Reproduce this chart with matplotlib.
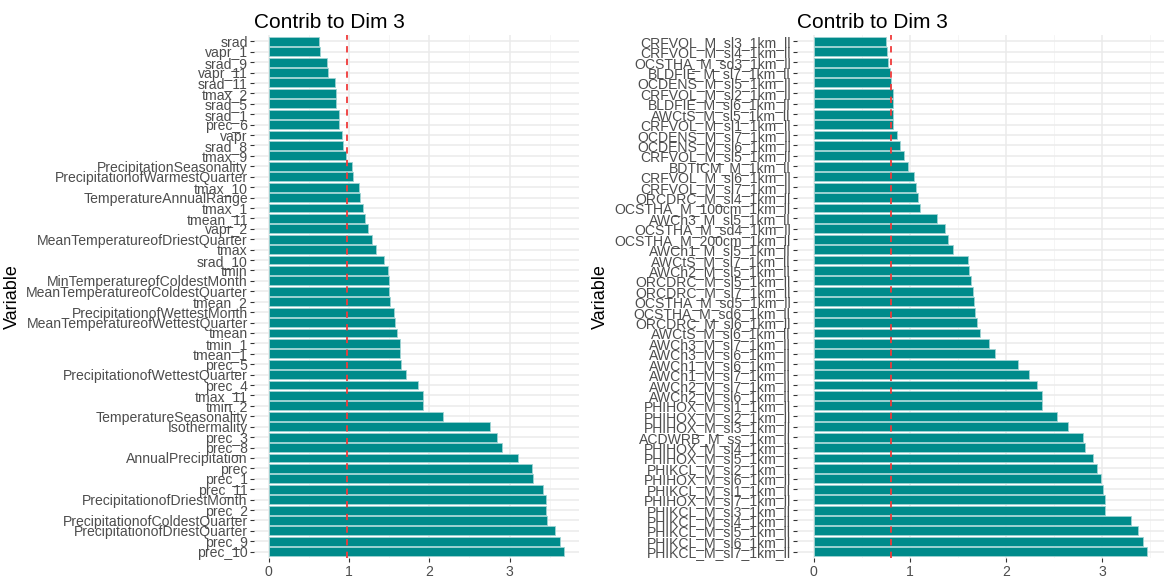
import numpy as np
import matplotlib
matplotlib.use('Agg')
import matplotlib.pyplot as plt

plt.rcParams['font.family'] = ['Liberation Sans', 'DejaVu Sans']

# climate variables, listed top to bottom
clim_vars = ['srad', 'vapr_1', 'srad_9', 'vapr_11', 'srad_11', 'tmax_2', 'srad_5', 'srad_1',
             'prec_6', 'vapr', 'srad_8', 'tmax_9', 'PrecipitationSeasonality',
             'PrecipitationofWarmestQuarter', 'tmax_10', 'TemperatureAnnualRange', 'tmax_1',
             'tmean_11', 'vapr_2', 'MeanTemperatureofDriestQuarter', 'tmax', 'srad_10', 'tmin',
             'MinTemperatureofColdestMonth', 'MeanTemperatureofColdestQuarter', 'tmean_2',
             'PrecipitationofWettestMonth', 'MeanTemperatureofWettestQuarter', 'tmean', 'tmin_1',
             'tmean_1', 'prec_5', 'PrecipitationofWettestQuarter', 'prec_4', 'tmax_11', 'tmin_2',
             'TemperatureSeasonality', 'Isothermality', 'prec_3', 'prec_8', 'AnnualPrecipitation',
             'prec', 'prec_1', 'prec_11', 'PrecipitationofDriestMonth', 'prec_2',
             'PrecipitationofColdestQuarter', 'PrecipitationofDriestQuarter', 'prec_9', 'prec_10']
clim_contrib = [0.62, 0.64, 0.73, 0.74, 0.83, 0.84, 0.84, 0.87, 0.88, 0.91,
                0.92, 0.96, 1.035, 1.05, 1.13, 1.14, 1.17, 1.20, 1.23, 1.29,
                1.33, 1.44, 1.49, 1.50, 1.50, 1.51, 1.565, 1.57, 1.60, 1.64,
                1.64, 1.645, 1.71, 1.86, 1.92, 1.92, 2.17, 2.75, 2.84, 2.90,
                3.11, 3.28, 3.29, 3.41, 3.45, 3.45, 3.46, 3.57, 3.63, 3.68]
clim_ref = 0.98

# soil variables, listed top to bottom
soil_vars = ['CRFVOL_M_sl3_1km_ll', 'CRFVOL_M_sl4_1km_ll', 'OCSTHA_M_sd3_1km_ll',
             'BLDFIE_M_sl7_1km_ll', 'OCDENS_M_sl5_1km_ll', 'CRFVOL_M_sl2_1km_ll',
             'BLDFIE_M_sl6_1km_ll', 'AWCtS_M_sl5_1km_ll', 'CRFVOL_M_sl1_1km_ll',
             'OCDENS_M_sl7_1km_ll', 'OCDENS_M_sl6_1km_ll', 'CRFVOL_M_sl5_1km_ll',
             'BDTICM_M_1km_ll', 'CRFVOL_M_sl6_1km_ll', 'CRFVOL_M_sl7_1km_ll',
             'ORCDRC_M_sl4_1km_ll', 'OCSTHA_M_100cm_1km_ll', 'AWCh3_M_sl5_1km_ll',
             'OCSTHA_M_sd4_1km_ll', 'OCSTHA_M_200cm_1km_ll', 'AWCh1_M_sl5_1km_ll',
             'AWCtS_M_sl7_1km_ll', 'AWCh2_M_sl5_1km_ll', 'ORCDRC_M_sl5_1km_ll',
             'ORCDRC_M_sl7_1km_ll', 'OCSTHA_M_sd5_1km_ll', 'OCSTHA_M_sd6_1km_ll',
             'ORCDRC_M_sl6_1km_ll', 'AWCtS_M_sl6_1km_ll', 'AWCh3_M_sl7_1km_ll',
             'AWCh3_M_sl6_1km_ll', 'AWCh1_M_sl6_1km_ll', 'AWCh1_M_sl7_1km_ll',
             'AWCh2_M_sl7_1km_ll', 'AWCh2_M_sl6_1km_ll', 'PHIHOX_M_sl1_1km_ll',
             'PHIHOX_M_sl2_1km_ll', 'PHIHOX_M_sl3_1km_ll', 'ACDWRB_M_ss_1km_ll',
             'PHIHOX_M_sl4_1km_ll', 'PHIHOX_M_sl5_1km_ll', 'PHIKCL_M_sl2_1km_ll',
             'PHIHOX_M_sl6_1km_ll', 'PHIKCL_M_sl1_1km_ll', 'PHIHOX_M_sl7_1km_ll',
             'PHIKCL_M_sl3_1km_ll', 'PHIKCL_M_sl4_1km_ll', 'PHIKCL_M_sl5_1km_ll',
             'PHIKCL_M_sl6_1km_ll', 'PHIKCL_M_sl7_1km_ll']
soil_contrib = [0.756, 0.76, 0.77, 0.79, 0.80, 0.82, 0.82, 0.825, 0.83, 0.87,
                0.90, 0.94, 0.98, 1.045, 1.06, 1.08, 1.11, 1.28, 1.37, 1.40,
                1.45, 1.60, 1.62, 1.64, 1.66, 1.67, 1.68, 1.70, 1.73, 1.82,
                1.89, 2.13, 2.24, 2.32, 2.37, 2.37, 2.53, 2.65, 2.80, 2.82,
                2.91, 2.95, 2.99, 3.01, 3.03, 3.03, 3.30, 3.37, 3.42, 3.47]
soil_ref = 0.80

x_ticks = [0, 1, 2, 3]


def contrib_panel(ax, names, values, ref):
    n = len(names)
    pos = np.arange(n)
    vmax = max(values)
    ax.set_xlim(-0.05 * vmax, 1.05 * vmax)
    ax.set_ylim(n - 0.4, -0.6)

    # ggplot-like minimal grid
    for v in np.arange(0.5, vmax * 1.05, 1.0):
        ax.axvline(v, color='#F4F4F4', lw=0.6, zorder=0)
    for v in x_ticks:
        ax.axvline(v, color='#EBEBEB', lw=1.1, zorder=0)
    for p in pos:
        ax.axhline(p, color='#EBEBEB', lw=1.1, zorder=0)

    ax.barh(pos, values, height=0.85, color='#008B8B', edgecolor='#9FD3D3',
            linewidth=0.6, zorder=2)
    ax.axvline(ref, color='#F03A3A', lw=1.3, ls=(0, (3.5, 3.5)), zorder=3)

    ax.set_yticks(pos)
    ax.set_yticklabels(names, fontsize=10.1, color='#4D4D4D')
    ax.set_xticks(x_ticks)
    ax.set_xticklabels([str(t) for t in x_ticks], fontsize=10.1, color='#4D4D4D')
    ax.tick_params(axis='y', length=3, width=0.8, color='#333333', pad=1.5)
    ax.tick_params(axis='x', length=3, width=0.8, color='#333333', pad=2)
    for s in ax.spines.values():
        s.set_visible(False)
    ax.set_ylabel('Variable', fontsize=13, color='black', labelpad=4)
    ax.set_title('Contrib to Dim 3', fontsize=15, loc='left', pad=5)


fig = plt.figure(figsize=(11.64, 5.77), dpi=100)
ax1 = fig.add_axes([254 / 1164, 1 - 558 / 577, 325 / 1164, (558 - 35) / 577])
ax2 = fig.add_axes([797 / 1164, 1 - 558 / 577, 367 / 1164, (558 - 35) / 577])

contrib_panel(ax1, clim_vars, clim_contrib, clim_ref)
contrib_panel(ax2, soil_vars, soil_contrib, soil_ref)

fig.savefig('out.png', dpi=100, facecolor='white')
